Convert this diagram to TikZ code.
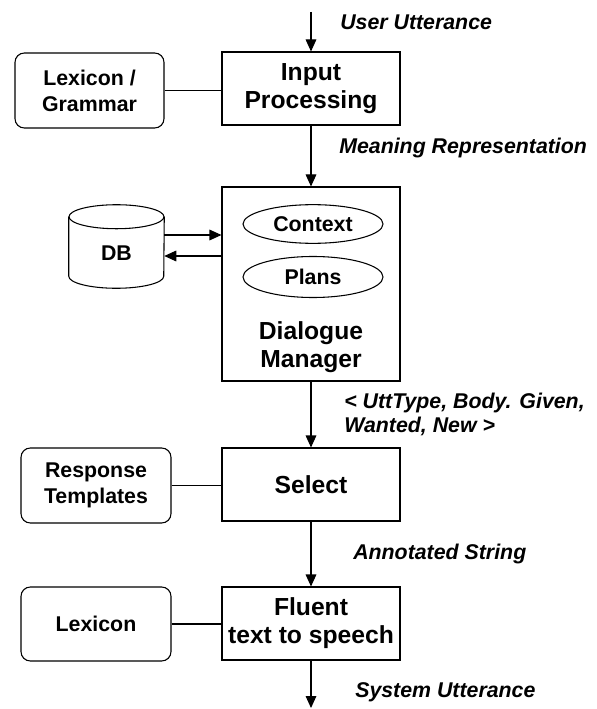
\documentclass[tikz,border=0pt]{standalone}
\usepackage{fontspec}
\setmainfont{Liberation Sans}
\usepackage{tikz}
\usetikzlibrary{positioning,calc,shapes.geometric,arrows.meta}
\newcommand{\bigfnt}{\fontsize{18.5}{21}\selectfont\bfseries}
\newcommand{\smallfnt}{\fontsize{16}{19.5}\selectfont\bfseries}
\newcommand{\labfnt}{\fontsize{16}{18}\selectfont\bfseries\itshape}
\tikzstyle{proc} = [rectangle, draw=black, line width=0.8pt, minimum width=133.5pt, minimum height=54.75pt, align=center, font=\bigfnt, inner sep=0pt]
\tikzstyle{store} = [rectangle, rounded corners=7pt, draw=black, line width=0.8pt, minimum width=112.5pt, minimum height=56.25pt, align=center, font=\smallfnt]
\tikzstyle{part} = [ellipse, draw=black, line width=0.8pt, minimum width=105pt, minimum height=29pt, inner sep=0pt, font=\smallfnt]
\tikzstyle{msg} = [anchor=west, align=left, font=\labfnt, inner sep=0pt]
\tikzstyle{arrow} = [line width=0.8pt, -{Triangle[length=9pt,width=8pt]}]
\tikzstyle{link} = [line width=0.8pt]

\begin{document}
\begin{tikzpicture}[x=0.75pt, y=-0.75pt]
        \useasboundingbox (0,0) rectangle (596,709);
        \node[proc] (input) at (311,88.5) {Input\\Processing};
        \node[store, minimum width=111.75pt] (lexgram) at (89.5,90.5) {Lexicon /\\Grammar};
        \node[proc, minimum height=145.5pt] (dm) at (311,284) {};
        \node[part] (context) at (313,224) {Context};
        \node[part, minimum height=30.75pt] (plans) at (313,277) {Plans};
        \node[font=\bigfnt, align=center] (dmname) at (311,347) {Dialogue\\Manager};
        \node[minimum width=71.25pt, minimum height=62.25pt] (db) at (116.5,246.5) {};
        \node[font=\smallfnt] (dbname) at (116.5,253) {DB};
        \node[proc] (select) at (311,484.5) {Select};
        \node[store] (resp) at (96,485.5) {Response\\Templates};
        \node[proc] (fluent) at (311,623.5) {Fluent\\text to speech};
        \node[store, minimum height=55.5pt] (lex) at (96,624) {Lexicon};

        \node[msg] (uu) at (340,22) {User Utterance};
        \node[msg] (mr) at (339,148) {Meaning Representation};
        \node[msg] (utt) at (344,414) {< UttType, Body. Given,\\Wanted, New >};
        \node[msg] (as) at (353,554) {Annotated String};
        \node[msg] (su) at (355,692) {System Utterance};

        % database drum
        \draw[link] (db.north) ++(0,12) ellipse [x radius=35.625pt, y radius=9pt];
        \draw[link] ([yshift=-9pt]db.north west) -- ([yshift=9pt]db.south west) arc[start angle=180, end angle=360, x radius=35.625pt, y radius=9pt] -- ([yshift=-9pt]db.north east);

        \coordinate (top) at (311,12);
        \coordinate (bottom) at (311,708);
        \coordinate (dbout) at ($(db.east)+(0,-11.5)$);
        \coordinate (dbin) at ($(db.east)+(0,9.5)$);
        \draw[arrow] (top) -- (input.north);
        \draw[arrow] (input.south) -- (dm.north);
        \draw[arrow] (dm.south) -- (select.north);
        \draw[arrow] (select.south) -- (fluent.north);
        \draw[arrow] (fluent.south) -- (bottom);
        \draw[arrow] (dbout) -- (dbout -| dm.west);
        \draw[arrow] (dbin -| dm.west) -- (dbin);
        \draw[link] (lexgram.east) -- (lexgram.east -| input.west);
        \draw[link] (resp.east) -- (resp.east -| select.west);
        \draw[link] (lex.east) -- (lex.east -| fluent.west);
\end{tikzpicture}
\end{document}
